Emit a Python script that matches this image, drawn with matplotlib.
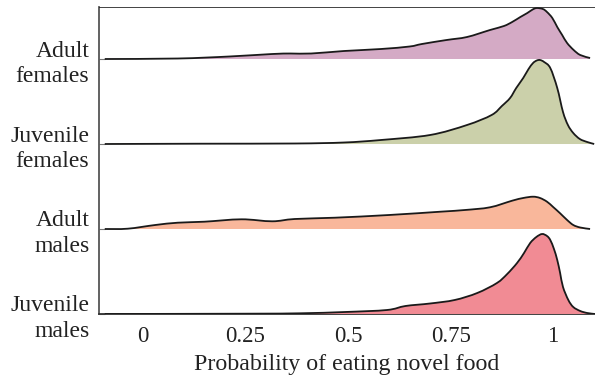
import matplotlib.pyplot as plt
from matplotlib.path import Path
from matplotlib.patches import PathPatch

plt.rcParams['font.family'] = ['Liberation Serif', 'DejaVu Serif']

# Groups, bottom to top
groups = ['Juvenile\nmales', 'Adult\nmales', 'Juvenile\nfemales', 'Adult\nfemales']
colors = ['#f18b94', '#f9b79b', '#cbd0aa', '#d4aac5']

# Density curves (x = probability, h = relative height)
jm_x = [-0.093, 0.25, 0.383, 0.493, 0.595, 0.64, 0.70, 0.76, 0.815, 0.863,
        0.888, 0.912, 0.929, 0.944, 0.959, 0.973, 0.985, 0.993, 1.002, 1.01, 1.017, 1.024,
        1.037, 1.049, 1.066, 1.083, 1.102]
jm_h = [0, 0.3, 0.7, 2, 4, 8, 10.5, 14, 21, 31,
        40, 51, 61, 71, 77, 80, 78, 74, 65, 54, 41, 27,
        14, 7, 3, 1, 0]

am_x = [-0.093, -0.037, 0.03, 0.085, 0.15, 0.24, 0.315, 0.37, 0.468, 0.60, 0.725, 0.785,
        0.846, 0.90, 0.927, 0.951, 0.968, 0.985, 1.0, 1.017, 1.034, 1.049, 1.066, 1.09]
am_h = [0, 0.3, 4, 6.3, 7.3, 9.7, 7.7, 10, 11.3, 14, 17.3, 19,
        21.7, 28.3, 31, 32.3, 31, 27.3, 22, 15.7, 9, 4, 1.5, 0]

jf_x = [-0.093, 0.14, 0.37, 0.49, 0.58, 0.70, 0.79, 0.85, 0.875, 0.895, 0.91, 0.927,
        0.94, 0.951, 0.96, 0.968, 0.978, 0.993, 1.01, 1.024, 1.036, 1.049, 1.065, 1.083, 1.1]
jf_h = [0, 0.3, 0.5, 1.5, 4, 9, 19, 29, 38, 46, 56, 66,
        75, 81, 83.5, 84, 82, 76, 56, 32, 19, 11, 5, 2, 0]

af_x = [-0.093, 0.085, 0.21, 0.315, 0.36, 0.41, 0.49, 0.58, 0.65, 0.68, 0.74, 0.79,
        0.846, 0.88, 0.90, 0.92, 0.937, 0.95, 0.96, 0.975, 0.985, 0.998, 1.01, 1.022,
        1.034, 1.05, 1.066, 1.09]
af_h = [0, 0.5, 2.5, 5, 5.5, 5.5, 8, 10, 12.5, 15, 19, 22,
        29, 33, 37, 42, 46, 49.5, 51, 50, 47, 41, 32, 24,
        16, 9, 4, 1]

curves = [(jm_x, jm_h), (am_x, am_h), (jf_x, jf_h), (af_x, af_h)]
scale = 1 / 85.0  # heights were read in pixels, one row = 85 px


def smooth_path(xs, ys):
    # catmull-rom through the points, drawn as cubic bezier segments
    pts = list(zip(xs, ys))
    verts = [pts[0]]
    codes = [Path.MOVETO]
    n = len(pts)
    for k in range(n - 1):
        p0 = pts[max(k - 1, 0)]
        p1 = pts[k]
        p2 = pts[k + 1]
        p3 = pts[min(k + 2, n - 1)]
        c1 = (p1[0] + (p2[0] - p0[0]) / 6, p1[1] + (p2[1] - p0[1]) / 6)
        c2 = (p2[0] - (p3[0] - p1[0]) / 6, p2[1] - (p3[1] - p1[1]) / 6)
        verts += [c1, c2, p2]
        codes += [Path.CURVE4] * 3
    return verts, codes


fig = plt.figure(figsize=(5.95, 3.80), dpi=100)
ax = fig.add_axes([0.1664, 0.1737, 0.8336, 0.8079])

# draw top row first so lower rows sit on top
for i in range(len(groups) - 1, -1, -1):
    xs, hs = curves[i]
    ys = [i + h * scale for h in hs]
    verts, codes = smooth_path(xs, ys)
    fill_path = Path(verts + [(xs[-1], i), (xs[0], i), (xs[0], i)],
                     codes + [Path.LINETO, Path.LINETO, Path.CLOSEPOLY])
    ax.add_patch(PathPatch(fill_path, facecolor=colors[i], lw=0, zorder=2 + (4 - i) * 2))
    ax.add_patch(PathPatch(Path(verts, codes), facecolor='none', edgecolor='#1a1a1a',
                           lw=1.3, zorder=3 + (4 - i) * 2))

ax.axhline(3.612, color='#222222', lw=1.2, zorder=20)

ax.set_xlim(-0.107, 1.102)
ax.set_ylim(0, 3.612)
ax.set_xticks([0, 0.25, 0.5, 0.75, 1])
ax.set_xticklabels(['0', '0.25', '0.5', '0.75', '1'])
ax.set_yticks(range(len(groups)))
ax.set_yticklabels(groups, fontsize=17, color='#222222', linespacing=1.3)
for lbl in ax.get_yticklabels():
    lbl.set_multialignment('right')
ax.tick_params(axis='x', length=0, pad=9, labelsize=16.5, labelcolor='#222222')
ax.tick_params(axis='y', length=4, direction='in', pad=7, color='#777777')
ax.set_xlabel('Probability of eating novel food', fontsize=17.2, color='#222222', labelpad=5)

for side in ['top', 'right']:
    ax.spines[side].set_visible(False)
ax.spines['left'].set_color('#555555')
ax.spines['left'].set_linewidth(1.3)
ax.spines['bottom'].set_color('#333333')
ax.spines['bottom'].set_linewidth(1.3)

fig.savefig('out.png', dpi=100)
